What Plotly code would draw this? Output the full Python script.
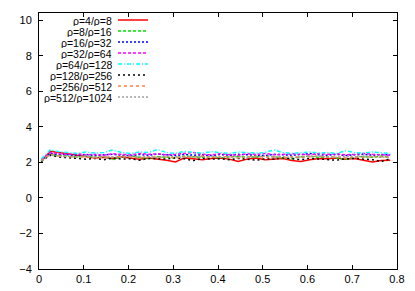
import plotly.graph_objects as go

x_vals = [0.005, 0.025, 0.045, 0.065, 0.085, 0.105, 0.125, 0.145, 0.165, 0.185,
          0.205, 0.225, 0.245, 0.265, 0.285, 0.305, 0.325, 0.345, 0.365, 0.385,
          0.405, 0.425, 0.445, 0.465, 0.485, 0.505, 0.525, 0.545, 0.565, 0.585,
          0.605, 0.625, 0.645, 0.665, 0.685, 0.705, 0.725, 0.745, 0.765, 0.785]

labels = ["ρ=4/ρ=8", "ρ=8/ρ=16", "ρ=16/ρ=32", "ρ=32/ρ=64",
          "ρ=64/ρ=128", "ρ=128/ρ=256", "ρ=256/ρ=512", "ρ=512/ρ=1024"]

r4 = [2.05, 2.62, 2.55, 2.48, 2.40, 2.30, 2.25, 2.28, 2.20, 2.30,
      2.22, 2.18, 2.25, 2.20, 2.12, 2.02, 2.25, 2.20, 2.15, 2.22,
      2.25, 2.18, 2.05, 2.18, 2.25, 2.15, 2.20, 2.22, 2.10, 2.05,
      2.15, 2.22, 2.20, 2.25, 2.18, 2.22, 2.12, 2.02, 2.10, 2.12]
r8 = [2.05, 2.45, 2.40, 2.35, 2.30, 2.35, 2.28, 2.32, 2.15, 2.30,
      2.35, 2.28, 2.20, 2.32, 2.30, 2.25, 2.35, 2.30, 2.28, 2.32,
      2.25, 2.30, 2.35, 2.28, 2.30, 2.38, 2.30, 2.25, 2.20, 2.32,
      2.35, 2.28, 2.30, 2.25, 2.15, 2.30, 2.32, 2.28, 2.35, 2.30]
r16 = [2.10, 2.50, 2.45, 2.42, 2.40, 2.45, 2.38, 2.42, 2.45, 2.40,
       2.38, 2.44, 2.40, 2.46, 2.42, 2.38, 2.45, 2.40, 2.42, 2.38,
       2.44, 2.40, 2.45, 2.42, 2.40, 2.38, 2.45, 2.42, 2.40, 2.44,
       2.50, 2.42, 2.40, 2.45, 2.38, 2.42, 2.45, 2.40, 2.44, 2.42]
r32 = [2.15, 2.55, 2.48, 2.45, 2.50, 2.42, 2.45, 2.40, 2.48, 2.45,
       2.42, 2.50, 2.45, 2.48, 2.42, 2.45, 2.50, 2.55, 2.45, 2.42,
       2.48, 2.45, 2.40, 2.48, 2.45, 2.50, 2.42, 2.45, 2.48, 2.45,
       2.42, 2.50, 2.45, 2.48, 2.42, 2.45, 2.50, 2.45, 2.42, 2.40]
r64 = [2.20, 2.70, 2.60, 2.55, 2.50, 2.58, 2.52, 2.55, 2.70, 2.55,
       2.50, 2.58, 2.55, 2.72, 2.55, 2.50, 2.62, 2.55, 2.52, 2.60,
       2.55, 2.50, 2.58, 2.55, 2.52, 2.55, 2.70, 2.55, 2.50, 2.55,
       2.58, 2.52, 2.55, 2.50, 2.65, 2.55, 2.52, 2.58, 2.55, 2.50]
r128 = [2.05, 2.40, 2.30, 2.25, 2.20, 2.18, 2.22, 2.15, 2.25, 2.18,
        2.20, 2.12, 2.22, 2.20, 2.18, 2.25, 2.20, 2.10, 2.22, 2.18,
        2.20, 2.15, 2.22, 2.18, 2.12, 2.20, 2.18, 2.25, 2.20, 2.15,
        2.22, 2.20, 2.18, 2.12, 2.20, 2.22, 2.18, 2.15, 2.05, 2.20]
r256 = [2.10, 2.45, 2.35, 2.30, 2.28, 2.32, 2.25, 2.30, 2.28, 2.35,
        2.30, 2.25, 2.32, 2.28, 2.30, 2.25, 2.32, 2.30, 2.35, 2.28,
        2.30, 2.32, 2.25, 2.30, 2.35, 2.28, 2.30, 2.25, 2.32, 2.28,
        2.30, 2.35, 2.28, 2.30, 2.25, 2.30, 2.28, 2.32, 2.30, 2.28]
r512 = [2.10, 2.40, 2.35, 2.32, 2.30, 2.35, 2.28, 2.32, 2.30, 2.28,
        2.35, 2.30, 2.32, 2.28, 2.35, 2.30, 2.28, 2.32, 2.30, 2.35,
        2.28, 2.30, 2.32, 2.28, 2.30, 2.35, 2.30, 2.32, 2.28, 2.30,
        2.32, 2.35, 2.30, 2.28, 2.32, 2.30, 2.35, 2.30, 2.28, 2.30]

series = [r4, r8, r16, r32, r64, r128, r256, r512]
colors = ["#ff0000", "#00e000", "#0000ff", "#ff00ff", "#00ffff", "#000000", "#ff7f3f", "#a0a0a0"]
dashes = ["solid", "3px,2px", "2px,2px", "3px,2px", "4px,2px,1px,2px", "2px,3px", "3px,3px", "2px,2px"]

x_ticks = [0, 0.1, 0.2, 0.3, 0.4, 0.5, 0.6, 0.7, 0.8]
x_ticktext = ["0", "0.1", "0.2", "0.3", "0.4", "0.5", "0.6", "0.7", "0.8"]
y_ticks = [-4, -2, 0, 2, 4, 6, 8, 10]

fig = go.Figure()
for lab, ys, c, d in zip(labels, series, colors, dashes):
    fig.add_trace(go.Scatter(x=x_vals[:len(ys)], y=ys, mode="lines", name=lab,
                             line=dict(color=c, width=1.5, dash=d), showlegend=False))

# the page body has an 8px margin; the figure is sized/offset to compensate
OFF = 8
W, H = 415 - OFF, 291 - OFF
l, r, t, b = 39 - OFF, 18, 13 - OFF, 22
pw, ph = W - l - r, H - t - b

# custom gnuplot-style key: right-aligned text, sample line to the right
for i, (lab, c, d) in enumerate(zip(labels, colors, dashes)):
    py = 20 + 11 * i - OFF
    yp = (H - b - py) / ph
    fig.add_annotation(xref="paper", yref="paper", x=(113 - OFF - l) / pw, y=yp, text=lab,
                       showarrow=False, xanchor="right", yanchor="middle",
                       height=11, borderpad=0,
                       font=dict(size=10.5, color="black"))
    fig.add_shape(type="line", xref="paper", yref="paper",
                  x0=(118 - OFF - l) / pw, x1=(148 - OFF - l) / pw, y0=yp, y1=yp,
                  line=dict(color=c, width=1.5, dash=d))

axis_common = dict(showline=True, linecolor="black", linewidth=1, mirror="allticks",
                   ticks="inside", ticklen=4, tickcolor="black", showgrid=False,
                   zeroline=False, automargin=False, tickfont=dict(size=11, color="black"))
fig.update_xaxes(range=[0, 0.8], tickvals=x_ticks, ticktext=x_ticktext, **axis_common)
fig.update_yaxes(range=[-4, 10.4], tickvals=y_ticks, ticklabelstandoff=4, **axis_common)

fig.update_layout(width=W, height=H, margin=dict(l=l, r=r, t=t, b=b),
                  plot_bgcolor="white", paper_bgcolor="white",
                  font=dict(family="Liberation Sans, Arial, sans-serif", size=11, color="black"))
fig.write_html("out.html")
